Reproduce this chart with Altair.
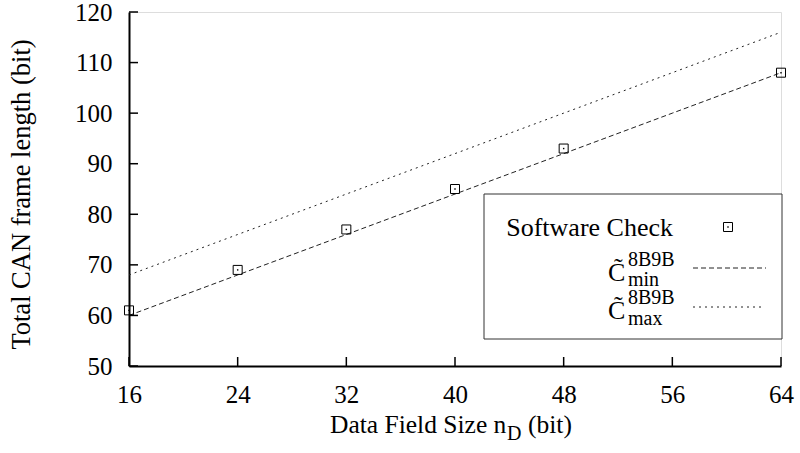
import altair as alt
import pandas as pd

# Measured frame lengths (software check) over the data field size
check_nd = [16, 24, 32, 40, 48, 64]
check_len = [61, 69, 77, 85, 93, 108]

# Analytical bounds of the 8B9B-coded frame length
bound_nd = [16, 24, 32, 40, 48, 56, 64]
c_min = [60, 68, 76, 84, 92, 100, 108]
c_max = [68, 76, 84, 92, 100, 108, 116]

x_ticks = [16, 24, 32, 40, 48, 56, 64]
y_ticks = [50, 60, 70, 80, 90, 100, 110, 120]

FONT = "Times New Roman, Liberation Serif, DejaVu Serif, serif"
W, H = 652, 354
DASH_MIN = [5, 3]
DASH_MAX = [2, 4]

pts = pd.DataFrame({"nd": check_nd, "len": check_len})
bounds = pd.DataFrame({"nd": bound_nd, "cmin": c_min, "cmax": c_max})

xs = alt.Scale(domain=[16, 64], nice=False, zero=False)
ys = alt.Scale(domain=[50, 120], nice=False, zero=False)

x_axis = alt.Axis(values=x_ticks, ticks=False, tickSize=0, grid=False,
                  domainColor="black", domainWidth=2, labelFlush=False,
                  labelFont=FONT, labelFontSize=25, labelColor="black",
                  labelBaseline="alphabetic", labelPadding=36, title=None)
y_axis = alt.Axis(values=y_ticks, ticks=False, tickSize=0, grid=False,
                  domainColor="black", domainWidth=2, labelFlush=False,
                  labelFont=FONT, labelFontSize=25, labelColor="black",
                  labelPadding=17,
                  title="Total CAN frame length (bit)",
                  titleFont=FONT, titleFontSize=26.5, titleFontWeight="normal",
                  titleColor="black", titleAngle=-90, titleAlign="center",
                  titleBaseline="alphabetic", titleX=-100, titleY=182)

base = alt.Chart(bounds)

line_min = base.mark_line(color="#222", strokeWidth=1, strokeDash=DASH_MIN).encode(
    x=alt.X("nd:Q", scale=xs, axis=x_axis),
    y=alt.Y("cmin:Q", scale=ys, axis=y_axis),
)
line_max = base.mark_line(color="#222", strokeWidth=1, strokeDash=DASH_MAX).encode(
    x=alt.X("nd:Q", scale=xs),
    y=alt.Y("cmax:Q", scale=ys),
)

squares = alt.Chart(pts).mark_point(shape="square", filled=False, size=81,
                                     color="black", strokeWidth=1, opacity=1).encode(
    x=alt.X("nd:Q", scale=xs),
    y=alt.Y("len:Q", scale=ys),
)
dots = alt.Chart(pts).mark_point(shape="square", filled=True, size=2,
                                  color="black", opacity=1).encode(
    x=alt.X("nd:Q", scale=xs),
    y=alt.Y("len:Q", scale=ys),
)

# Inward tick marks on both axes
yt = alt.Chart(pd.DataFrame({"v": y_ticks})).mark_rule(color="black", strokeWidth=1.5).encode(
    y=alt.Y("v:Q", scale=ys), x=alt.value(0), x2=alt.value(9))
xt = alt.Chart(pd.DataFrame({"v": x_ticks})).mark_rule(color="black", strokeWidth=1.5).encode(
    x=alt.X("v:Q", scale=xs), y=alt.value(H), y2=alt.value(H - 9))

one = pd.DataFrame({"k": [0]})


def label(text, x, y, size=25.5, align="left"):
    return alt.Chart(one).mark_text(font=FONT, fontSize=size, color="black",
                                    align=align, baseline="alphabetic").encode(
        x=alt.value(x), y=alt.value(y), text=alt.value(text))


# X-axis title with subscript
x_title = (label("Data Field Size n", 201, 421)
           + label("D", 378, 428, size=20)
           + label("(bit)", 399, 421))

# Legend box and entries
box = alt.Chart(one).mark_rect(fill="white", stroke="#333", strokeWidth=1).encode(
    x=alt.value(355), x2=alt.value(653), y=alt.value(182), y2=alt.value(327))

leg_sq = alt.Chart(one).mark_point(shape="square", filled=False, size=81,
                                   color="black", strokeWidth=1, opacity=1).encode(
    x=alt.value(599), y=alt.value(215))
leg_dot = alt.Chart(one).mark_point(shape="square", filled=True, size=2,
                                    color="black", opacity=1).encode(
    x=alt.value(599), y=alt.value(215))

leg_min = alt.Chart(one).mark_rule(color="#222", strokeWidth=1, strokeDash=DASH_MIN).encode(
    x=alt.value(564), x2=alt.value(637), y=alt.value(256))
leg_max = alt.Chart(one).mark_rule(color="#222", strokeWidth=1, strokeDash=DASH_MAX).encode(
    x=alt.value(564), x2=alt.value(633), y=alt.value(295))

legend_text = (label("Software Check", 544, 224, size=26, align="right")
               + label("C\u0303", 479, 269, size=26) + label("8B9B", 499, 254, size=20)
               + label("min", 499, 274, size=20)
               + label("C\u0303", 479, 307, size=26) + label("8B9B", 499, 292, size=20)
               + label("max", 499, 313, size=20))

chart = alt.layer(
    line_max, line_min, squares, dots, yt, xt, x_title,
    box, leg_sq, leg_dot, leg_min, leg_max, legend_text,
).properties(
    width=W, height=H,
    autosize=alt.AutoSizeParams(type="none"),
    padding={"left": 129, "top": 12, "right": 19, "bottom": 87},
).configure_view(stroke=None).configure(background="white")

chart.save("out.html", embed_options={"renderer": "svg", "actions": False})
